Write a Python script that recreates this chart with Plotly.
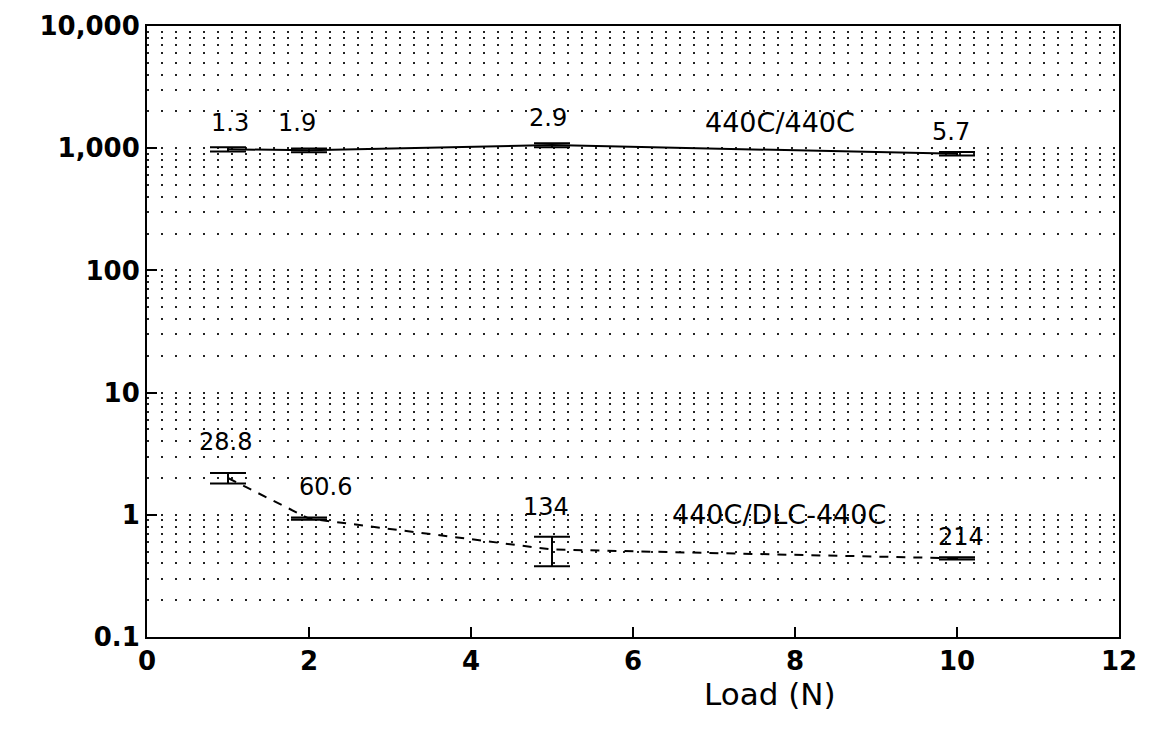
import math
import plotly.graph_objects as go

# Data
load = [1, 2, 5, 10]
steel_y = [980, 960, 1060, 900]
steel_err = [40, 35, 40, 30]
steel_labels = ["1.3", "1.9", "2.9", "5.7"]

dlc_y = [2.0, 0.93, 0.52, 0.44]
dlc_err_plus = [0.2, 0.02, 0.14, 0.01]
dlc_err_minus = [0.2, 0.02, 0.14, 0.01]
dlc_labels = ["28.8", "60.6", "134", "214"]

ytick_vals = [0.1, 1, 10, 100, 1000, 10000]
ytick_text = ["0.1", "1", "10", "100", "1,000", "10,000"]
xtick_vals = [0, 2, 4, 6, 8, 10, 12]

# label positions
steel_lab_x = [1.03, 1.85, 4.95, 9.92]
steel_lab_y = [1600, 1600, 1780, 1360]
dlc_lab_x = [0.97, 2.2, 4.92, 10.05]
dlc_lab_y = [3.95, 1.7, 1.15, 0.66]

fig = go.Figure()

fig.add_trace(go.Scatter(
    x=load, y=steel_y, mode="lines+markers",
    line=dict(color="black", width=2),
    marker=dict(size=1, color="black"),
    error_y=dict(type="data", array=steel_err, color="black", thickness=2, width=18),
    showlegend=False,
))
fig.add_trace(go.Scatter(
    x=load, y=dlc_y, mode="lines+markers",
    line=dict(color="black", width=2, dash="9px,8px"),
    marker=dict(size=1, color="black"),
    error_y=dict(type="data", array=dlc_err_plus, arrayminus=dlc_err_minus,
                 color="black", thickness=2, width=18),
    showlegend=False,
))

ann_font = dict(family="DejaVu Sans, sans-serif", size=24, color="black")
for x, y, t in zip(steel_lab_x, steel_lab_y, steel_labels):
    fig.add_annotation(x=x, y=math.log10(y), text=t, showarrow=False, font=ann_font)
for x, y, t in zip(dlc_lab_x, dlc_lab_y, dlc_labels):
    fig.add_annotation(x=x, y=math.log10(y), text=t, showarrow=False, font=ann_font)
fig.add_annotation(x=7.82, y=math.log10(1620), text="440C/440C", showarrow=False,
                   font=dict(ann_font, size=27))
fig.add_annotation(x=7.8, y=math.log10(1.01), text="440C/DLC-440C", showarrow=False,
                   font=dict(ann_font, size=27))
fig.add_annotation(xref="paper", yref="paper", x=0.641, y=-0.06, yanchor="top",
                   text="Load (N)", showarrow=False,
                   font=dict(family="DejaVu Sans, sans-serif", size=31, color="black"))

tick_font = dict(family="DejaVu Sans, sans-serif", size=26, color="black", weight="bold")

fig.update_layout(
    width=1149, height=735,
    margin=dict(l=139, r=38, t=18, b=106),
    paper_bgcolor="white", plot_bgcolor="white",
    xaxis=dict(
        range=[0, 12], tickvals=xtick_vals, ticks="inside", ticklen=10, tickwidth=2,
        tickcolor="black", tickfont=tick_font, showline=True, linecolor="black", linewidth=2,
        mirror=True, showgrid=False, zeroline=False, ticklabeloverflow="allow", automargin=False,
    ),
    yaxis=dict(
        type="log", range=[-1, 4], tickvals=ytick_vals, ticktext=ytick_text,
        ticks="inside", ticklen=10, tickwidth=2, tickcolor="black", tickfont=tick_font,
        showline=True, linecolor="black", linewidth=2, mirror=True,
        showgrid=True, gridcolor="#222", gridwidth=2, griddash="2px,12px",
        minor=dict(dtick="D1", showgrid=True, gridcolor="#222", gridwidth=2, griddash="2px,12px", ticks=""),
        zeroline=False, ticklabeloverflow="allow", automargin=False,
    ),
)

fig.write_html("out.html")
